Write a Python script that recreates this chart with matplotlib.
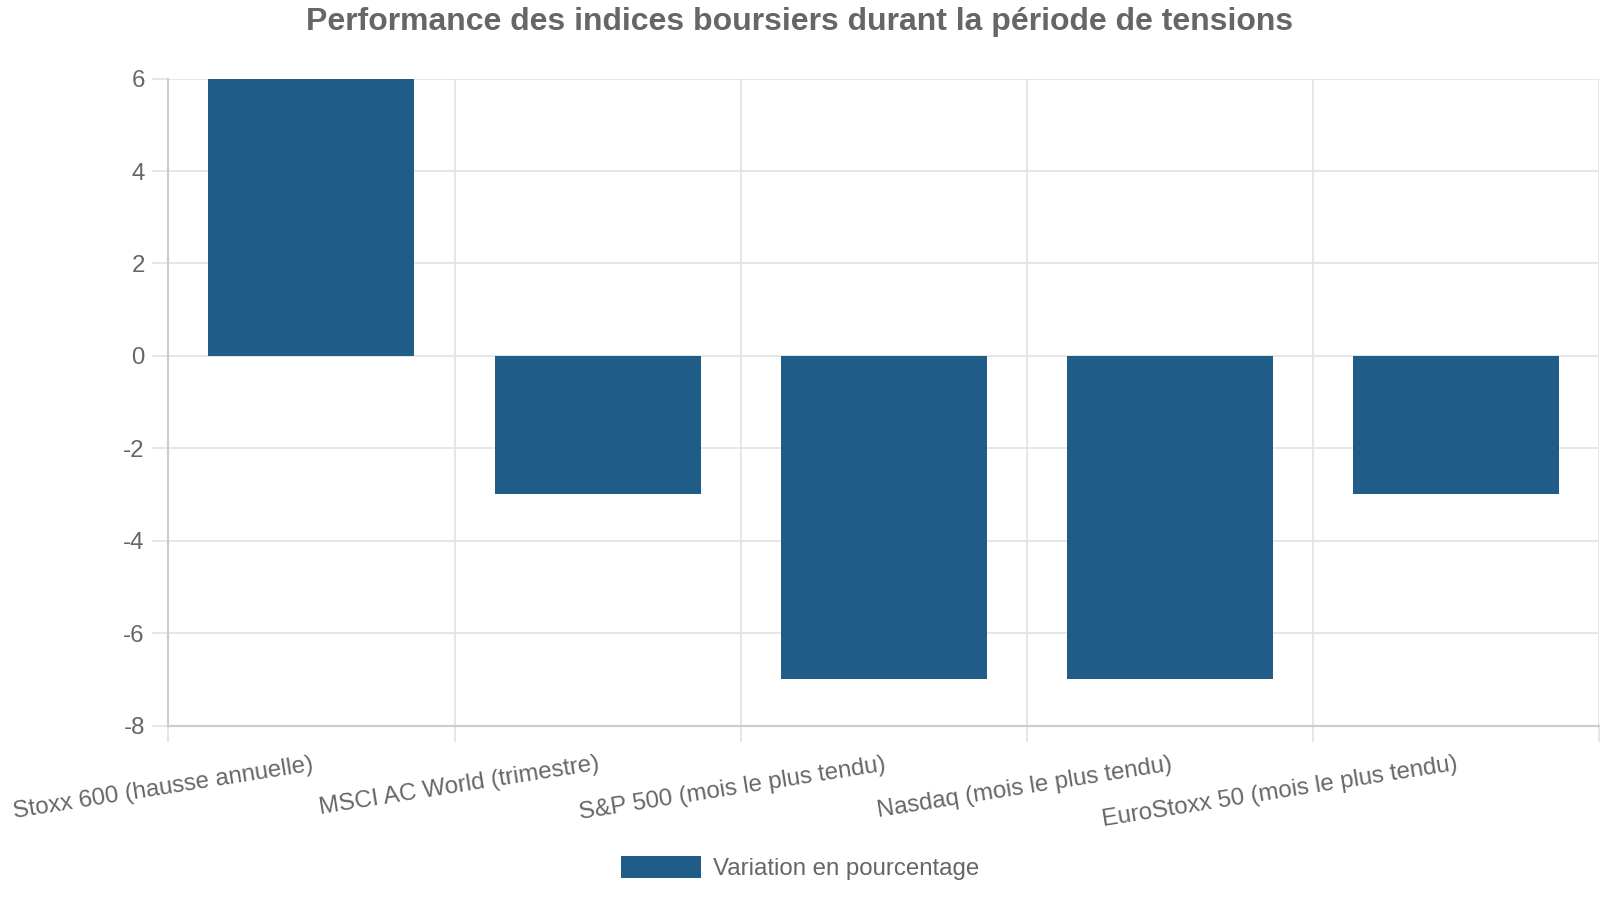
import matplotlib
matplotlib.use("Agg")
import matplotlib.pyplot as plt
from matplotlib.patches import Patch

plt.rcParams['font.family'] = ['Liberation Sans', 'DejaVu Sans']

categories = [
    "Stoxx 600 (hausse annuelle)",
    "MSCI AC World (trimestre)",
    "S&P 500 (mois le plus tendu)",
    "Nasdaq (mois le plus tendu)",
    "EuroStoxx 50 (mois le plus tendu)",
]
values = [6, -3, -7, -7, -3]
series_label = "Variation en pourcentage"
title = "Performance des indices boursiers durant la période de tensions"
yticks = [-8, -6, -4, -2, 0, 2, 4, 6]

bar_color = "#1f5c87"
text_color = "#666666"
grid_color = "#e2e2e2"
axis_color = "#cccccc"

fig = plt.figure(figsize=(16, 9), dpi=100)
ax = fig.add_axes([168.4 / 1600, 1 - 725.5 / 900, (1599 - 168.4) / 1600, (725.5 - 78.6) / 900])

x = list(range(len(categories)))
ax.bar(x, values, width=0.72, color=bar_color, zorder=3, label=series_label)

ax.set_xlim(-0.5, len(categories) - 0.5)
ax.set_ylim(-8, 6)
ax.set_yticks(yticks)
ax.set_yticklabels([str(v) for v in yticks])

bounds = [i - 0.5 for i in range(len(categories) + 1)]
ax.set_xticks(bounds, minor=True)
ax.set_xticks(x)
ax.set_xticklabels(categories, rotation=9, ha='right', rotation_mode='anchor')

ax.grid(False)
for b in bounds:
    ax.axvline(b, color=grid_color, lw=1.2, zorder=1)
for t in yticks:
    ax.axhline(t, color=grid_color, lw=1.2, zorder=1)

for side in ['top', 'right']:
    ax.spines[side].set_visible(False)
ax.spines['left'].set_color(axis_color)
ax.spines['bottom'].set_color(axis_color)
ax.spines['left'].set_linewidth(1.5)
ax.spines['bottom'].set_linewidth(1.5)

ax.tick_params(axis='y', which='major', length=11.5, width=1.2, color=grid_color,
               labelsize=17.3, labelcolor=text_color, pad=5.5)
ax.tick_params(axis='x', which='major', length=0, labelsize=17.3, labelcolor=text_color, pad=20)
ax.tick_params(axis='x', which='minor', length=11.5, width=1.2, color=grid_color)

fig.text(0.5, 1 - 30 / 900, title, ha='center', va='baseline', fontsize=23,
         fontweight='bold', color=text_color)

handle = Patch(facecolor=bar_color, edgecolor='none')
fig.legend([handle], [series_label], loc='center', bbox_to_anchor=(0.5, 1 - 868 / 900),
           frameon=False, fontsize=17.3, labelcolor=text_color, handlelength=3.33,
           handleheight=1.0, handletextpad=0.5)

fig.savefig("out.png", dpi=100, facecolor='white')
